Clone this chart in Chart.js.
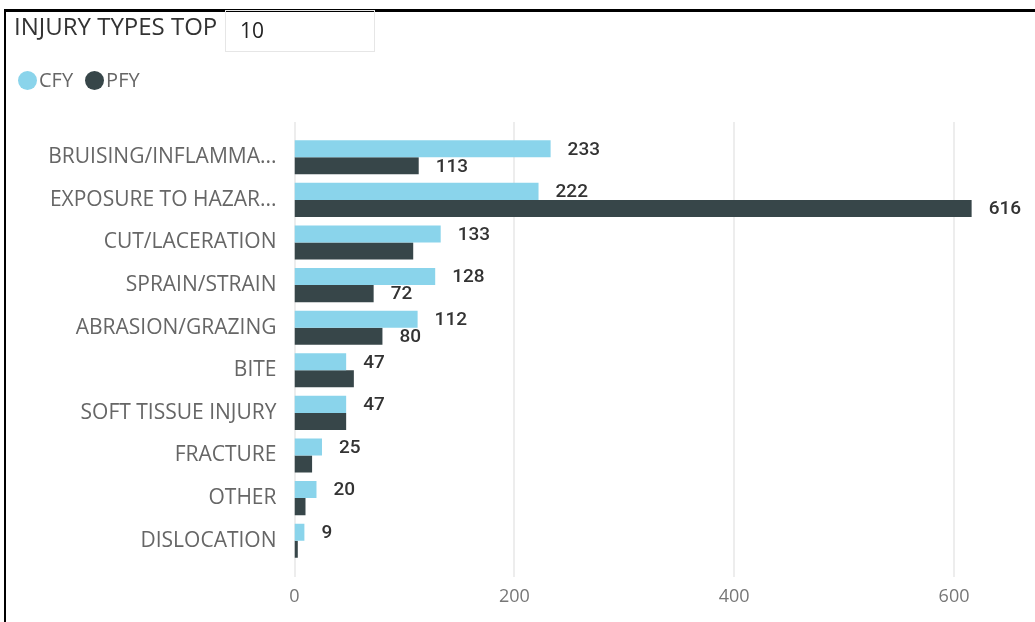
<!DOCTYPE html>
<html>
<head>
<meta charset="utf-8">
<script src="https://cdn.jsdelivr.net/npm/chart.js@4.4.1/dist/chart.umd.min.js"></script>
<style>
  html, body { margin: 0; padding: 0; background: #fff; }
  body { width: 1035px; height: 622px; position: relative; overflow: hidden; font-family: 'Open Sans', sans-serif; }
  #chart { position: absolute; left: 0; top: 0; }
  .frame { position: absolute; background: #000; }
  #frameTop { left: 4px; top: 9px; width: 1031px; height: 3px; }
  #frameLeft { left: 4px; top: 9px; width: 2px; height: 613px; }
  #title { position: absolute; left: 14px; top: 11px; font-size: 24px; line-height: 30px; color: #333; white-space: nowrap; }
  #topBox { position: absolute; left: 225px; top: 10px; width: 148px; height: 40px; border: 1px solid #e6e6e6; }
  #topBox span { position: absolute; left: 14px; top: 5px; font-size: 21px; line-height: 28px; color: #222; }
  #legend { position: absolute; left: 18px; top: 66px; font-size: 20px; line-height: 28px; color: #666; }
  .item { display: inline-block; margin-right: 12px; }
  .dot { display: inline-block; width: 19px; height: 19px; border-radius: 50%; vertical-align: -3px; margin-right: 2px; }
</style>
</head>
<body>
<canvas id="chart" width="1035" height="622"></canvas>
<div class="frame" id="frameTop"></div>
<div class="frame" id="frameLeft"></div>
<div id="title">INJURY TYPES TOP</div>
<div id="topBox"><span>10</span></div>
<div id="legend"></div>
<script>
// Datos del gráfico
const categories = [
    'BRUISING/INFLAMMA...',
    'EXPOSURE TO HAZAR...',
    'CUT/LACERATION',
    'SPRAIN/STRAIN',
    'ABRASION/GRAZING',
    'BITE',
    'SOFT TISSUE INJURY',
    'FRACTURE',
    'OTHER',
    'DISLOCATION'
];
const cfyValues = [233, 222, 133, 128, 112, 47, 47, 25, 20, 9];
const pfyValues = [113, 616, 108, 72, 80, 54, 47, 16, 10, 3];
const seriesNames = ['CFY', 'PFY'];
const seriesColors = ['#8AD4EB', '#374649'];
const xTicks = [0, 200, 400, 600];

// Leyenda
const legendDiv = document.getElementById('legend');
seriesNames.forEach(function(name, i) {
    legendDiv.innerHTML += '<span class="item"><span class="dot" style="background:' + seriesColors[i] + '"></span>' + name + '</span>';
});

// Líneas de la cuadrícula (un poco más largas que el área del gráfico)
const gridLines = {
    id: 'gridLines',
    beforeDatasetsDraw(chart) {
        const ctx = chart.ctx;
        const area = chart.chartArea;
        const x = chart.scales.x;
        ctx.save();
        ctx.strokeStyle = '#ededed';
        ctx.lineWidth = 2;
        xTicks.forEach(function(t) {
            const px = Math.round(x.getPixelForValue(t));
            ctx.beginPath();
            ctx.moveTo(px, area.top - 14);
            ctx.lineTo(px, area.bottom + 15);
            ctx.stroke();
        });
        ctx.restore();
    }
};

// Etiquetas de valores; las de PFY se ocultan si chocan con las de CFY
const valueLabels = {
    id: 'valueLabels',
    afterDatasetsDraw(chart) {
        const ctx = chart.ctx;
        const meta0 = chart.getDatasetMeta(0);
        const meta1 = chart.getDatasetMeta(1);
        const gap = 17;
        ctx.save();
        ctx.font = '500 19px Roboto';
        ctx.fillStyle = '#333';
        ctx.textBaseline = 'middle';
        ctx.textAlign = 'left';
        categories.forEach(function(c, i) {
            const b0 = meta0.data[i];
            const b1 = meta1.data[i];
            const t0 = String(cfyValues[i]);
            const t1 = String(pfyValues[i]);
            const x0 = b0.x + gap;
            const x1 = b1.x + gap;
            const w0 = ctx.measureText(t0).width;
            const w1 = ctx.measureText(t1).width;
            ctx.fillText(t0, x0, b0.y + 1);
            const overlap = x1 < x0 + w0 + 2 && x1 + w1 > x0 - 2;
            if (!overlap) {
                ctx.fillText(t1, x1, b1.y + 1);
            }
        });
        ctx.restore();
    }
};

const ctx = document.getElementById('chart').getContext('2d');
new Chart(ctx, {
    type: 'bar',
    data: {
        labels: categories,
        datasets: [{
            label: seriesNames[0],
            data: cfyValues,
            backgroundColor: seriesColors[0],
            barPercentage: 1,
            categoryPercentage: 0.8
        }, {
            label: seriesNames[1],
            data: pfyValues,
            backgroundColor: seriesColors[1],
            barPercentage: 1,
            categoryPercentage: 0.8
        }]
    },
    options: {
        indexAxis: 'y',
        responsive: false,
        animation: false,
        layout: { padding: { top: 136, right: 26, bottom: 0, left: 0 } },
        plugins: {
            legend: { display: false },
            tooltip: { enabled: false }
        },
        scales: {
            x: {
                min: 0,
                max: 650,
                afterBuildTicks: function(scale) {
                    scale.ticks = xTicks.map(function(v) { return { value: v }; });
                },
                afterFit: function(scale) { scale.height = 60; },
                grid: { display: false, drawTicks: false },
                border: { display: false },
                ticks: { padding: 24, color: '#777', font: { family: 'Open Sans', size: 18 } }
            },
            y: {
                afterFit: function(scale) { scale.width = 294.5; },
                grid: { display: false, drawTicks: false },
                border: { display: false },
                ticks: { padding: 18, autoSkip: false, color: '#666', font: { family: 'Open Sans', size: 21 } }
            }
        }
    },
    plugins: [gridLines, valueLabels]
});
</script>
</body>
</html>
